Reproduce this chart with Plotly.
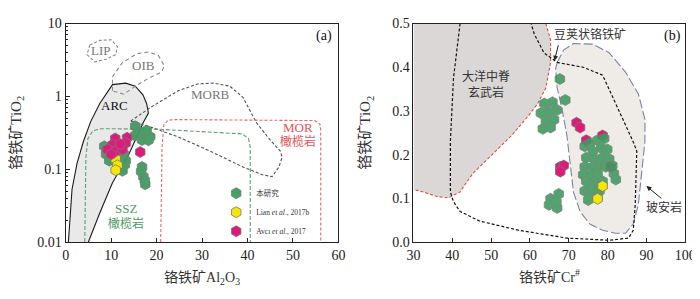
import math
import plotly.graph_objects as go

# ---------------- data: panel (a) Al2O3 vs TiO2 ----------------
a_this_al = [15.3, 17.5, 16.8, 18.6, 15.3, 16.1, 17.8, 18.2,
             8.9, 8.5, 9.6, 12.1, 12.5, 12.8, 13.2, 9.0, 12.0, 13.0,
             16.8, 17.1, 17.5, 16.6, 17.4]
a_this_ti = [0.39, 0.307, 0.251, 0.278, 0.29, 0.33, 0.34, 0.25,
             0.16, 0.206, 0.131, 0.107, 0.095, 0.16, 0.131, 0.18, 0.14, 0.115,
             0.107, 0.079, 0.062, 0.093, 0.07]
a_lian_al = [11.0, 11.4, 11.0]
a_lian_ti = [0.138, 0.113, 0.097]
a_avci_al = [10.9, 13.5, 13.2, 10.3, 9.2, 11.0, 12.5, 10.0, 12.0, 16.4]
a_avci_ti = [0.264, 0.27, 0.228, 0.216, 0.187, 0.177, 0.187, 0.16, 0.22, 0.172]

# field boundaries (a)
arc_al = [0.6, 1.0, 1.4, 2.5, 3.9, 5.5, 7.5, 10.3, 13.2, 15.3, 17.0, 17.8, 18.2, 17.1, 15.5, 13.9, 12.0, 10.3, 7.5, 5.0]
arc_ti = [0.01, 0.025, 0.053, 0.12, 0.24, 0.45, 0.80, 1.45, 1.52, 1.38, 1.05, 0.80, 0.59, 0.44, 0.27, 0.16, 0.10, 0.065, 0.025, 0.01]
lip_al = [5.3, 7.5, 10.0, 11.4, 11.0, 8.9, 6.4, 4.7, 5.3]
lip_ti = [5.06, 5.87, 6.0, 4.82, 3.75, 3.23, 2.98, 3.75, 5.06]
oib_al = [10.3, 10.3, 12.5, 15.7, 18.2, 20.4, 21.7, 21.1, 18.2, 15.3, 12.8]
oib_ti = [1.19, 1.86, 2.92, 3.86, 4.06, 3.64, 2.64, 2.16, 1.77, 1.38, 1.07]
morb_al = [14.3, 18.9, 24.7, 29.0, 32.5, 36.1, 39.0, 40.4, 41.9, 44.7, 47.2, 47.6, 46.9, 45.4, 43.3, 39.0, 31.8, 24.7, 18.9, 14.3]
morb_ti = [0.458, 0.72, 1.19, 1.48, 1.52, 1.38, 0.97, 0.65, 0.44, 0.264, 0.177, 0.145, 0.107, 0.079, 0.084, 0.107, 0.177, 0.278, 0.375, 0.458]
ssz_al = [4.2, 4.45, 4.9, 6.0, 7.8, 20.0, 38.8, 40.2, 40.6, 40.6]
ssz_ti = [0.01, 0.145, 0.264, 0.338, 0.36, 0.355, 0.305, 0.265, 0.2, 0.01]
mor_al = [20.9, 21.2, 21.6, 22.5, 24.0, 54.8, 55.9, 56.1, 56.1]
mor_ti = [0.01, 0.2, 0.41, 0.47, 0.48, 0.465, 0.42, 0.35, 0.01]

# ---------------- data: panel (b) Cr# vs TiO2 ----------------
b_this_cr = [67.7, 69.1, 65.8, 63.7, 67.0, 64.9, 62.8, 66.2, 64.1, 63.3, 65.3,
             65.3, 67.4, 64.9, 67.0, 66.8,
             74.1, 75.4, 77.4, 79.1, 76.2, 78.3, 79.9, 74.5, 76.6, 78.7, 80.4,
             74.1, 76.2, 77.9, 79.5, 73.7, 75.8, 77.4, 81.6, 82.1, 74.5, 76.6, 78.7,
             74.1, 75.8, 77.9, 75.4, 77.4, 75.0, 81.2]
b_this_ti = [0.373, 0.325, 0.320, 0.317, 0.302, 0.298, 0.295, 0.280, 0.277, 0.259, 0.262,
             0.099, 0.110, 0.085, 0.078, 0.092,
             0.219, 0.226, 0.233, 0.237, 0.208, 0.215, 0.212, 0.193, 0.190, 0.193, 0.190,
             0.172, 0.172, 0.175, 0.172, 0.154, 0.154, 0.157, 0.157, 0.143, 0.139, 0.135, 0.139,
             0.117, 0.121, 0.117, 0.103, 0.103, 0.096, 0.175]
b_lian_cr = [77.4, 78.7]
b_lian_ti = [0.099, 0.128]
b_avci_cr = [72.0, 72.9, 74.5, 78.7, 67.8, 68.7, 67.8, 80.8]
b_avci_ti = [0.273, 0.262, 0.233, 0.244, 0.172, 0.175, 0.161, 0.172]

# field boundaries (b)
mb_cr = [64.1, 65.3, 65.3, 64.1, 62.0, 59.5, 55.3, 50.3, 45.3, 41.9, 39.0, 36.1, 32.7, 30.0]
mb_ti = [0.5, 0.462, 0.411, 0.353, 0.317, 0.288, 0.244, 0.201, 0.157, 0.114, 0.101, 0.104, 0.114, 0.12]
pod_cr = [42.0, 40.3, 39.5, 39.5, 40.3, 42.0, 47.0, 57.0, 69.5, 80.4, 85.4, 86.6, 87.1, 87.5, 86.6, 82.0, 78.7, 73.7, 67.0, 63.6, 61.1, 60.3]
pod_ti = [0.5, 0.375, 0.23, 0.114, 0.092, 0.070, 0.048, 0.027, 0.009, 0.004, 0.009, 0.027, 0.085, 0.208, 0.229, 0.317, 0.382, 0.40, 0.411, 0.433, 0.476, 0.5]
bon_cr = [67.0, 68.7, 71.2, 76.2, 80.4, 84.6, 87.9, 89.6, 89.6, 88.7, 87.9, 86.6, 84.6, 82.0, 78.7, 75.4, 72.9, 71.2, 70.4, 69.5, 68.3, 67.0, 66.6, 67.0]
bon_ti = [0.411, 0.44, 0.454, 0.453, 0.433, 0.389, 0.339, 0.281, 0.23, 0.157, 0.085, 0.041, 0.020, 0.020, 0.027, 0.041, 0.070, 0.114, 0.172, 0.244, 0.302, 0.353, 0.397, 0.411]

GREEN = "#3e9c5f"
PINK = "#e0197d"
YELLOW = "#f7e600"
EDGE = "#707a70"
SERIF = "Liberation Serif, 'Noto Sans CJK SC', serif"

fig = go.Figure()


def line(x, y, color, dash, xa="x", ya="y", width=1.1, fill=None, fillcolor=None):
    fig.add_trace(go.Scatter(x=x, y=y, xaxis=xa, yaxis=ya, mode="lines",
                             line=dict(color=color, dash=dash, width=width),
                             fill=fill, fillcolor=fillcolor, showlegend=False, hoverinfo="skip"))


# panel (a) fields
line(arc_al, arc_ti, "#1a1a1a", "solid", width=1.1, fill="toself", fillcolor="#e9e9e9")
line(lip_al, lip_ti, "#8a8a8a", "3px,2px")
line(oib_al + oib_al[:1], oib_ti + oib_ti[:1], "#8a8a8a", "4px,3px")
line(morb_al, morb_ti, "#555555", "3px,2px")
line(ssz_al, ssz_ti, "#5f9e72", "4px,2px")
line(mor_al, mor_ti, "#e8666a", "3px,2px")

# panel (b) fields
line([30] + mb_cr + [30, 30], [0.5] + mb_ti + [0.5, 0.5], "rgba(0,0,0,0)", "solid", "x2", "y2",
     width=0, fill="toself", fillcolor="#dad7d6")
line(mb_cr, mb_ti, "#e0503c", "3px,2px", "x2", "y2")
line(bon_cr, bon_ti, "#7c82a6", "9px,3px", "x2", "y2", fill="toself", fillcolor="#efece8")
line(pod_cr, pod_ti, "#111111", "3px,2px", "x2", "y2", width=1.2)


def mk(c, s=11):
    return dict(symbol="hexagon", size=s, color=c, line=dict(color=EDGE, width=0.8))


# panel (a) points
fig.add_trace(go.Scatter(x=a_this_al, y=a_this_ti, mode="markers", name="本研究",
                         marker=mk(GREEN), opacity=0.95))
fig.add_trace(go.Scatter(x=a_lian_al, y=a_lian_ti, mode="markers", name="Lian <i>et al</i>., 2017b",
                         marker=mk(YELLOW)))
fig.add_trace(go.Scatter(x=a_avci_al, y=a_avci_ti, mode="markers", name="Avcı <i>et al</i>., 2017",
                         marker=mk(PINK)))
# panel (b) points
fig.add_trace(go.Scatter(x=b_avci_cr, y=b_avci_ti, xaxis="x2", yaxis="y2", mode="markers",
                         marker=mk(PINK), showlegend=False))
fig.add_trace(go.Scatter(x=b_this_cr, y=b_this_ti, xaxis="x2", yaxis="y2", mode="markers",
                         marker=mk(GREEN), opacity=0.9, showlegend=False))
fig.add_trace(go.Scatter(x=b_lian_cr, y=b_lian_ti, xaxis="x2", yaxis="y2", mode="markers",
                         marker=mk(YELLOW), showlegend=False))


def ann(x, y, text, color="#333", size=12, xa="x", ya="y", **kw):
    fig.add_annotation(x=x, y=y, xref=xa, yref=ya, text=text, showarrow=False,
                       font=dict(family=SERIF, size=size, color=color), **kw)


L = math.log10
ann(7.8, L(4.3), "LIP", "#777", 13)
ann(17.1, L(2.64), "OIB", "#777", 13)
ann(31.8, L(1.07), "MORB", "#777", 13)
ann(10.7, L(0.755), "ARC", "#111", 13)
ann(51.2, L(0.375), "MOR", "#e0555a", 13)
ann(51.2, L(0.24), "橄榄岩", "#e0555a", 12)
ann(13.2, L(0.029), "SSZ", "#4f9a63", 13)
ann(13.2, L(0.0177), "橄榄岩", "#4f9a63", 12)
ann(56.9, L(6.8), "(a)", "#111", 14)

ann(48.6, 0.378, "大洋中脊", "#333", 12, "x2", "y2")
ann(48.6, 0.342, "玄武岩", "#333", 12, "x2", "y2")
ann(75.4, 0.476, "豆荚状铬铁矿", "#333", 12, "x2", "y2")
ann(94.6, 0.078, "玻安岩", "#333", 12, "x2", "y2")
ann(96.7, 0.472, "(b)", "#111", 14, "x2", "y2")
fig.add_annotation(x=66.3, y=0.415, ax=67.4, ay=0.454, xref="x2", yref="y2", axref="x2", ayref="y2",
                   text="", showarrow=True, arrowhead=2, arrowsize=1, arrowwidth=1, arrowcolor="#222")
fig.add_annotation(x=90.0, y=0.128, ax=94.2, ay=0.097, xref="x2", yref="y2", axref="x2", ayref="y2",
                   text="", showarrow=True, arrowhead=2, arrowsize=1, arrowwidth=1, arrowcolor="#222")

ax_common = dict(showline=True, linecolor="#222", linewidth=1, mirror=True,
                 ticklen=4, tickcolor="#222", showgrid=False, zeroline=False,
                 tickfont=dict(family=SERIF, size=14, color="#222"))
ydom = [1 - 239 / 299, 1 - 9 / 299]
fig.update_layout(
    width=700, height=299, margin=dict(l=0, r=0, t=0, b=0),
    paper_bgcolor="white", plot_bgcolor="white",
    font=dict(family=SERIF, color="#333"),
    xaxis=dict(domain=[52 / 700, 332 / 700], range=[0, 60], dtick=10, anchor="y", ticks="inside",
               title=dict(text="铬铁矿Al<sub>2</sub>O<sub>3</sub>", font=dict(size=14), standoff=10),
               **ax_common),
    yaxis=dict(domain=ydom, type="log", range=[-2, 1], anchor="x", ticks="inside",
               tickvals=[0.01, 0.1, 1, 10], ticktext=["0.01", "0.1", "1", "10"],
               minor=dict(ticks="inside", ticklen=2.5, tickcolor="#222",
                          tickvals=[m * 10 ** e for e in (-2, -1, 0) for m in range(2, 10)]),
               title=dict(text="铬铁矿TiO<sub>2</sub>", font=dict(size=15), standoff=15),
               **ax_common),
    xaxis2=dict(domain=[409 / 700, 688 / 700], range=[30, 100], dtick=10, anchor="y2", ticks="inside",
                title=dict(text="铬铁矿Cr<sup>#</sup>", font=dict(size=14), standoff=10),
                **ax_common),
    yaxis2=dict(domain=ydom, range=[0, 0.5], dtick=0.1, tickformat=".1f", anchor="x2", ticks="",
                title=dict(text="铬铁矿TiO<sub>2</sub>", font=dict(size=15), standoff=17),
                **ax_common),
    legend=dict(x=0.295, y=0.4235, xanchor="left", yanchor="top", bgcolor="rgba(0,0,0,0)",
                font=dict(family=SERIF, size=7.5, color="#333"), itemwidth=30, tracegroupgap=0),
)

fig.write_html("out.html")
